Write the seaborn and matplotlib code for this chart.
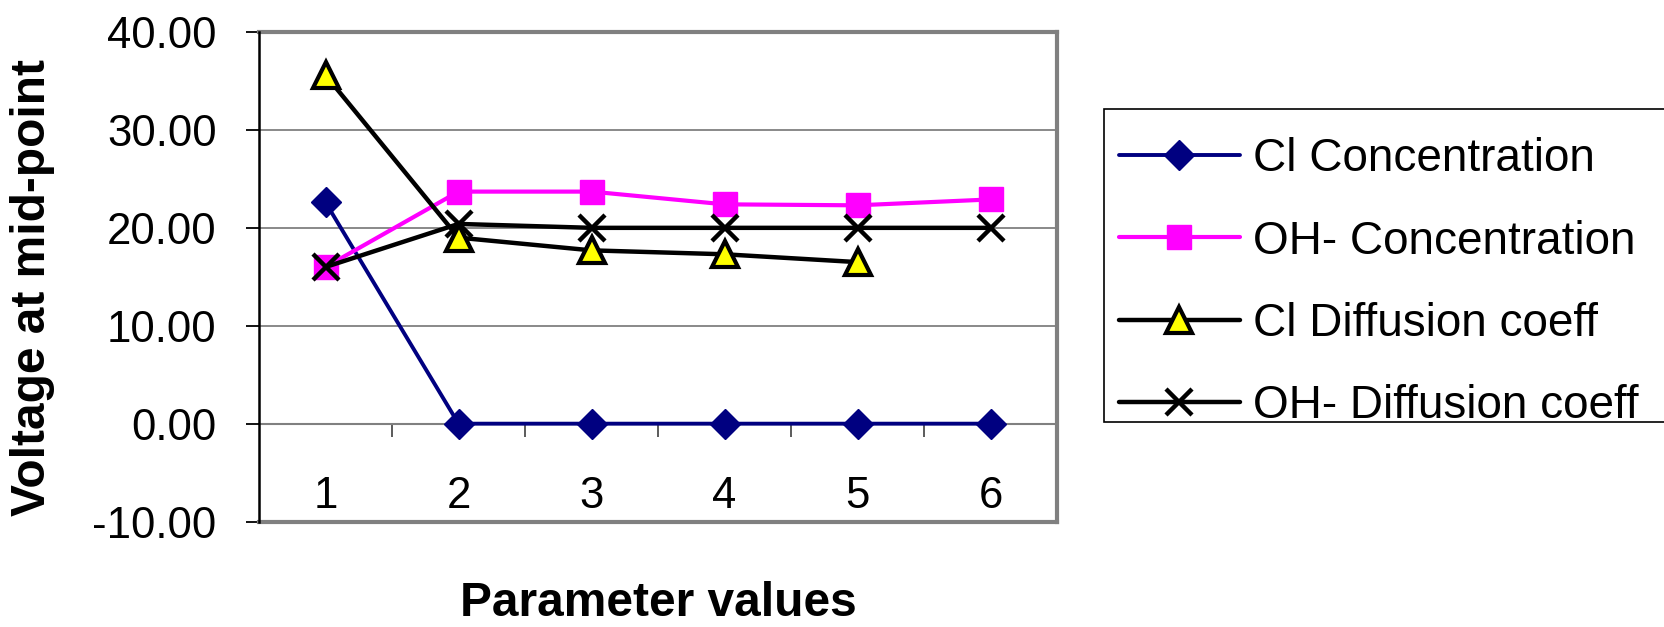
import numpy as np
import pandas as pd
import matplotlib
matplotlib.use("Agg")
import matplotlib.pyplot as plt
from matplotlib.patches import Rectangle
import seaborn as sns

# Parameter index on the category axis
params = [1, 2, 3, 4, 5, 6]

# Mid-point voltage for each parameter sweep
cl_concentration = [22.6, 0.0, 0.0, 0.0, 0.0, 0.0]
oh_concentration = [16.0, 23.7, 23.7, 22.4, 22.3, 22.9]
cl_diffusion = [35.6, 19.0, 17.7, 17.3, 16.5, np.nan]
oh_diffusion = [16.0, 20.4, 20.0, 20.0, 20.0, 20.0]

series_names = ["Cl Concentration", "OH- Concentration",
                "Cl Diffusion coeff", "OH- Diffusion coeff"]
y_ticks = [-10, 0, 10, 20, 30, 40]
x_title = "Parameter values"
y_title = "Voltage at mid-point"

sns.set_style("white")
plt.rcParams["font.family"] = ["Liberation Sans", "DejaVu Sans"]
for key in ["text.color", "axes.labelcolor", "xtick.color", "ytick.color"]:
    plt.rcParams[key] = "black"

W, H = 1665, 627
fig = plt.figure(figsize=(W / 100, H / 100), dpi=100)
ax = fig.add_axes([0.15556, 0.16810, 0.47928, 0.78086])
ax.set_zorder(2)

df = pd.DataFrame({
    "param": params,
    series_names[0]: cl_concentration,
    series_names[1]: oh_concentration,
    series_names[2]: cl_diffusion,
    series_names[3]: oh_diffusion,
})

styles = {
    series_names[0]: dict(color="#000080", marker="D", markersize=15,
                          markeredgecolor="#000080", markerfacecolor="#000080",
                          markeredgewidth=1, linewidth=2.8),
    series_names[1]: dict(color="#FF00FF", marker="s", markersize=17.5,
                          markeredgecolor="#FF00FF", markerfacecolor="#FF00FF",
                          markeredgewidth=1, linewidth=3.0),
    series_names[2]: dict(color="black", marker="^", markersize=19,
                          markeredgecolor="black", markerfacecolor="#FFFF00",
                          markeredgewidth=3, linewidth=3.2),
    series_names[3]: dict(color="black", marker="x", markersize=19,
                          markeredgecolor="black", markeredgewidth=3.2,
                          linewidth=3.2),
}

for i, name in enumerate(series_names):
    sub = df[["param", name]].dropna()
    sns.lineplot(data=sub, x="param", y=name, ax=ax, label=name,
                 zorder=3 + i, clip_on=False, **styles[name])

# Value axis
ax.set_ylim(-10, 40)
ax.set_yticks(y_ticks)
ax.set_yticklabels([f"{v:.2f}" for v in y_ticks])
ax.yaxis.grid(True, color="#808080", linewidth=1.3)
ax.set_axisbelow(True)
ax.tick_params(axis="y", direction="out", length=9.5, width=1.3,
               color="black", pad=21, labelsize=31.5, left=True)

# Category axis: labels sit low inside the plot area
ax.set_xlim(0.5, 6.5)
ax.set_xticks(params)
ax.set_xticklabels([str(p) for p in params])
ax.tick_params(axis="x", length=0, pad=-33, labelsize=31.5)

# Category axis line crossing at zero with boundary ticks
zero_frac = (0 - (-10)) / (40 - (-10))
cat_axis = ax.secondary_xaxis(zero_frac)
cat_axis.set_xticks([p + 0.5 for p in params])
cat_axis.set_xticklabels([])
cat_axis.tick_params(axis="x", direction="out", length=9.5, width=1.2,
                     color="#404040")
cat_axis.spines["bottom"].set_color("#808080")
cat_axis.spines["bottom"].set_linewidth(1.5)

# Plot area border
for side in ["top", "right", "bottom"]:
    ax.spines[side].set_visible(True)
    ax.spines[side].set_color("#808080")
    ax.spines[side].set_linewidth(3)
ax.spines["left"].set_color("black")
ax.spines["left"].set_linewidth(1.8)
ax.spines["left"].set_zorder(10)

ax.set_xlabel("")
ax.set_ylabel("")
fig.text(658 / W, 1 - 604 / H, x_title, fontsize=34.5, fontweight="bold",
         ha="center", va="center")
fig.text(33 / W, 1 - 287 / H, y_title, fontsize=34.5, fontweight="bold",
         ha="center", va="center", rotation=90)

# Legend box running off the right edge
fig.patches.append(Rectangle((1104 / W, 1 - 422 / H), 700 / W, (422 - 109) / H,
                             transform=fig.transFigure, facecolor="white",
                             edgecolor="black", linewidth=1.2, zorder=0))
leg = ax.legend(loc="upper left", bbox_to_anchor=(1119 / W, 1 - 137 / H),
                bbox_transform=fig.transFigure, fontsize=33, frameon=False,
                handlelength=2.64, handletextpad=0.28, labelspacing=0.84,
                borderpad=0, borderaxespad=0)

fig.savefig("out.png", dpi=100)
